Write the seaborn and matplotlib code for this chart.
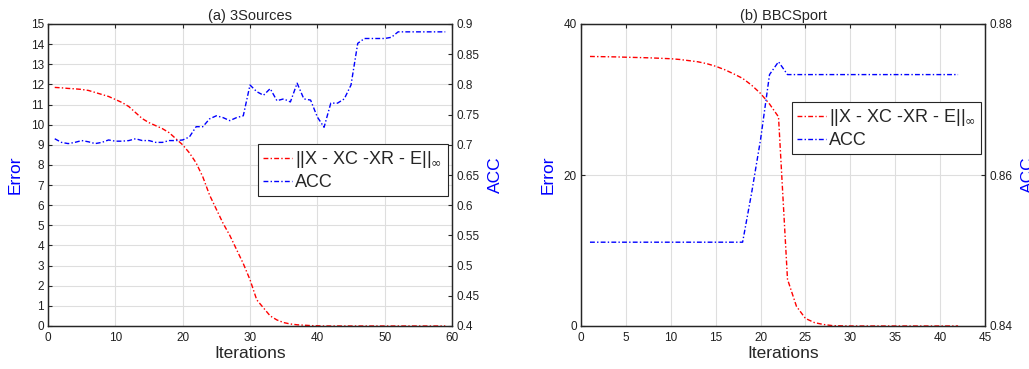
import numpy as np
import pandas as pd
import matplotlib
matplotlib.use("Agg")
import matplotlib.pyplot as plt
import seaborn as sns
from matplotlib.lines import Line2D

# ---------------- data ----------------
iters_a = list(range(1, 60))
err_a = [11.85, 11.83, 11.8, 11.78, 11.75, 11.7, 11.6, 11.5, 11.4, 11.25,
         11.1, 10.9, 10.6, 10.3, 10.1, 9.95, 9.8, 9.6, 9.3, 9.0,
         8.6, 8.1, 7.4, 6.5, 5.8, 5.1, 4.5, 3.8, 3.1, 2.3,
         1.3, 0.9, 0.5, 0.3, 0.17, 0.1, 0.06, 0.04, 0.02, 0.01,
         0.0, 0.0, 0.0, 0.0, 0.0, 0.0, 0.0, 0.0, 0.0, 0.0,
         0.0, 0.0, 0.0, 0.0, 0.0, 0.0, 0.0, 0.0, 0.0]
acc_a = [0.710, 0.704, 0.702, 0.704, 0.707, 0.705, 0.702, 0.704, 0.708, 0.706,
         0.706, 0.707, 0.710, 0.707, 0.707, 0.704, 0.704, 0.707, 0.707, 0.708,
         0.713, 0.730, 0.730, 0.743, 0.748, 0.745, 0.740, 0.745, 0.748, 0.799,
         0.788, 0.782, 0.793, 0.773, 0.776, 0.771, 0.802, 0.776, 0.774, 0.746,
         0.729, 0.769, 0.769, 0.776, 0.799, 0.868, 0.876, 0.876, 0.876, 0.876,
         0.878, 0.887, 0.887, 0.887, 0.887, 0.887, 0.887, 0.887, 0.887]

iters_b = list(range(1, 43))
err_b = [35.7, 35.68, 35.66, 35.64, 35.6, 35.57, 35.54, 35.5, 35.45, 35.4,
         35.3, 35.15, 35.0, 34.75, 34.4, 33.95, 33.4, 32.8, 31.9, 30.8,
         29.4, 27.7, 6.2, 2.6, 1.0, 0.45, 0.2, 0.05, 0.02, 0.0,
         0.0, 0.0, 0.0, 0.0, 0.0, 0.0, 0.0, 0.0, 0.0, 0.0,
         0.0, 0.0]
acc_b = [0.8511] * 18 + [0.8576, 0.8647, 0.8733, 0.8750] + [0.8733] * 20

legend_err = '||X - XC -XR - E||$_{\\infty}$'
legend_acc = 'ACC'
titles = ['(a) 3Sources', '(b) BBCSport']

df_a = pd.DataFrame({'it': iters_a, 'err': err_a, 'acc': acc_a})
df_b = pd.DataFrame({'it': iters_b, 'err': err_b, 'acc': acc_b})

# ---------------- style ----------------
sns.set_style("white")
plt.rcParams['font.family'] = ['Liberation Sans', 'DejaVu Sans']
plt.rcParams['mathtext.fontset'] = 'dejavusans'

fig = plt.figure(figsize=(10.29, 3.69), dpi=100)
W, H = 1029, 369
spine_c = '#262626'
ls = (0, (3.5, 1.6, 1.0, 1.6))
lw = 1.0

def make_panel(left_px, df, title, xlim, xticks, ylim, yticks, y2lim, y2ticks,
               y2fmt, leg_anchor):
    ax = fig.add_axes([left_px / W, (H - 326) / H, 404 / W, 302 / H])
    ax2 = ax.twinx()
    sns.lineplot(data=df, x='it', y='err', ax=ax, color='red',
                 linestyle=ls, linewidth=lw)
    sns.lineplot(data=df, x='it', y='acc', ax=ax2, color='blue',
                 linestyle=ls, linewidth=lw)
    ax.set_xlim(*xlim)
    ax.set_xticks(xticks)
    ax.set_ylim(*ylim)
    ax.set_yticks(yticks)
    ax2.set_ylim(*y2lim)
    ax2.set_yticks(y2ticks)
    ax2.set_yticklabels([y2fmt(v) for v in y2ticks])
    ax.grid(True, color='#dedede', linewidth=0.8)
    ax.set_axisbelow(True)
    ax.set_xlabel('Iterations', fontsize=12.5, labelpad=2)
    ax.set_ylabel('Error', fontsize=12.5, color='blue', labelpad=6)
    ax2.set_ylabel('ACC', fontsize=12.5, color='blue', labelpad=6)
    ax.set_title(title, fontsize=10.5, pad=3)
    for a in (ax, ax2):
        for s in a.spines.values():
            s.set_color(spine_c)
            s.set_linewidth(0.9)
        a.tick_params(direction='in', length=3, width=0.8, colors=spine_c,
                      labelsize=8.5, labelcolor='#202020')
    ax.tick_params(axis='x', top=True, pad=4)
    ax.tick_params(axis='y', right=False, pad=3)
    ax2.tick_params(axis='y', pad=3)
    handles = [Line2D([], [], color='red', linestyle=ls, linewidth=lw),
               Line2D([], [], color='blue', linestyle=ls, linewidth=lw)]
    leg = ax2.legend(handles, [legend_err, legend_acc], loc='upper left',
                     bbox_to_anchor=leg_anchor, fontsize=13, frameon=True,
                     fancybox=False, edgecolor='#262626', framealpha=1,
                     handlelength=1.6, handletextpad=0.15, borderpad=0.3,
                     labelspacing=0.2, borderaxespad=0)
    leg.get_frame().set_linewidth(0.8)
    return ax, ax2

make_panel(48, df_a, titles[0], (0, 60), np.arange(0, 61, 10),
           (0, 15), np.arange(0, 16, 1), (0.4, 0.9),
           np.round(np.arange(0.4, 0.901, 0.05), 2),
           lambda v: ('%g' % v), (0.52, 0.603))
make_panel(581, df_b, titles[1], (0, 45), np.arange(0, 46, 5),
           (0, 40), [0, 20, 40], (0.84, 0.88), [0.84, 0.86, 0.88],
           lambda v: '%.2f' % v, (0.522, 0.742))

fig.savefig('out.png', dpi=100)
